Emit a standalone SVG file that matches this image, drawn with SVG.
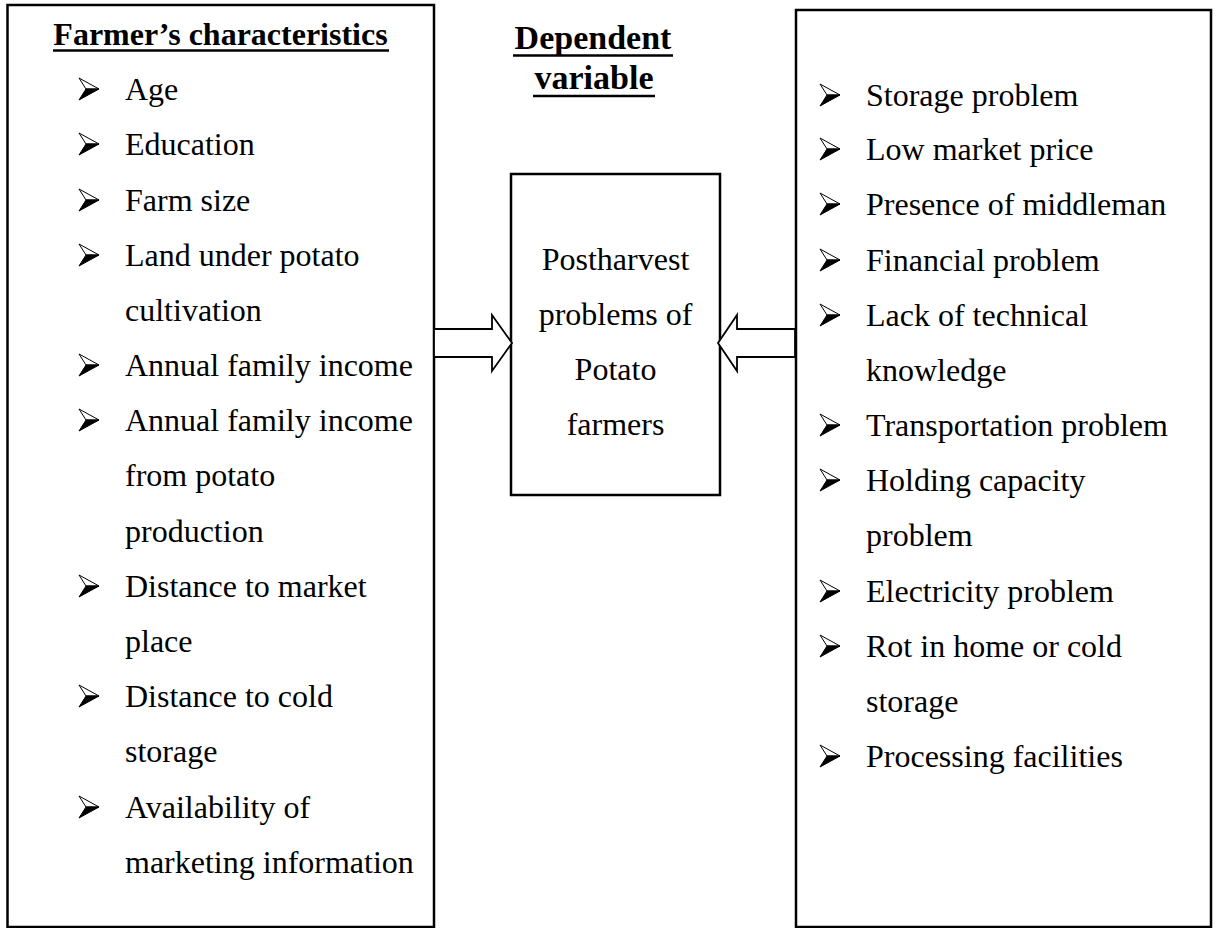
<svg xmlns="http://www.w3.org/2000/svg" xmlns:xlink="http://www.w3.org/1999/xlink" width="1217" height="928" viewBox="0 0 1217 928">
  <style>
    .box { fill: #ffffff; stroke: #000000; stroke-width: 2.5; }
    .item { font-family: "Liberation Serif", "Times New Roman", serif; font-size: 32px; fill: #000000; }
    .head { font-family: "Liberation Serif", "Times New Roman", serif; font-size: 32px; font-weight: bold; fill: #000000; }
    .center { text-anchor: middle; }
    .rule { stroke: #000000; stroke-width: 2.5; }
    .flow { fill: #ffffff; stroke: #000000; stroke-width: 1.8; stroke-linejoin: miter; }
  </style>
  <defs>
    <!-- arrowhead list bullet, origin at its lower-left corner on the baseline -->
    <symbol id="bullet" overflow="visible">
      <path d="M0,-22 L20,-11 L7,-11 Z" fill="#ffffff" stroke="#000000" stroke-width="1"/>
      <path d="M7,-11 L20,-11 L0,0 Z" fill="#000000" stroke="#000000" stroke-width="1" stroke-linejoin="round"/>
    </symbol>
  </defs>

  <rect x="0" y="0" width="1217" height="928" fill="#ffffff"/>

  <!-- independent variables: farmer's characteristics -->
  <g id="farmer-characteristics">
    <rect class="box" x="7.5" y="5" width="426.5" height="922"/>
    <text class="head center" x="220.5" y="45">Farmer’s characteristics</text>
    <line class="rule" x1="53" y1="50.5" x2="389" y2="50.5"/>
    <use xlink:href="#bullet" x="79" y="100"/>
    <text class="item" x="125" y="100">Age</text>
    <use xlink:href="#bullet" x="79" y="155"/>
    <text class="item" x="125" y="155">Education</text>
    <use xlink:href="#bullet" x="79" y="211"/>
    <text class="item" x="125" y="211">Farm size</text>
    <use xlink:href="#bullet" x="79" y="266"/>
    <text class="item" x="125" y="266">Land under potato</text>
    <text class="item" x="125" y="321">cultivation</text>
    <use xlink:href="#bullet" x="79" y="376"/>
    <text class="item" x="125" y="376">Annual family income</text>
    <use xlink:href="#bullet" x="79" y="431"/>
    <text class="item" x="125" y="431">Annual family income</text>
    <text class="item" x="125" y="486">from potato</text>
    <text class="item" x="125" y="542">production</text>
    <use xlink:href="#bullet" x="79" y="597"/>
    <text class="item" x="125" y="597">Distance to market</text>
    <text class="item" x="125" y="652">place</text>
    <use xlink:href="#bullet" x="79" y="707"/>
    <text class="item" x="125" y="707">Distance to cold</text>
    <text class="item" x="125" y="762">storage</text>
    <use xlink:href="#bullet" x="79" y="818"/>
    <text class="item" x="125" y="818">Availability of</text>
    <text class="item" x="125" y="873">marketing information</text>
  </g>

  <!-- dependent variable heading -->
  <g id="dependent-heading">
    <text class="head center" x="593" y="49" style="font-size:34px">Dependent</text>
    <line class="rule" x1="513" y1="55.5" x2="673" y2="55.5"/>
    <text class="head center" x="594" y="89" style="font-size:34px">variable</text>
    <line class="rule" x1="533" y1="96" x2="655" y2="96"/>
  </g>

  <!-- dependent variable box -->
  <g id="postharvest-problems">
    <rect class="box" x="511" y="174" width="209" height="321"/>
    <text class="item center" x="615.5" y="270">Postharvest</text>
    <text class="item center" x="615.5" y="325">problems of</text>
    <text class="item center" x="615.5" y="380">Potato</text>
    <text class="item center" x="615.5" y="435">farmers</text>
  </g>

  <!-- problem factors -->
  <g id="problem-factors">
    <rect class="box" x="796" y="10" width="415" height="917"/>
    <use xlink:href="#bullet" x="820" y="106"/>
    <text class="item" x="866" y="106">Storage problem</text>
    <use xlink:href="#bullet" x="820" y="160"/>
    <text class="item" x="866" y="160">Low market price</text>
    <use xlink:href="#bullet" x="820" y="215"/>
    <text class="item" x="866" y="215">Presence of middleman</text>
    <use xlink:href="#bullet" x="820" y="271"/>
    <text class="item" x="866" y="271">Financial problem</text>
    <use xlink:href="#bullet" x="820" y="326"/>
    <text class="item" x="866" y="326">Lack of technical</text>
    <text class="item" x="866" y="381">knowledge</text>
    <use xlink:href="#bullet" x="820" y="436"/>
    <text class="item" x="866" y="436">Transportation problem</text>
    <use xlink:href="#bullet" x="820" y="491"/>
    <text class="item" x="866" y="491">Holding capacity</text>
    <text class="item" x="866" y="546">problem</text>
    <use xlink:href="#bullet" x="820" y="602"/>
    <text class="item" x="866" y="602">Electricity problem</text>
    <use xlink:href="#bullet" x="820" y="657"/>
    <text class="item" x="866" y="657">Rot in home or cold</text>
    <text class="item" x="866" y="712">storage</text>
    <use xlink:href="#bullet" x="820" y="767"/>
    <text class="item" x="866" y="767">Processing facilities</text>
  </g>

  <!-- block arrows into the central box -->
  <g id="connectors">
    <polygon class="flow" points="434,329 492,329 492,315 512,343 492,371 492,357 434,357"/>
    <polygon class="flow" points="795,329 737,329 737,315 718,343 737,371 737,357 795,357"/>
  </g>
</svg>
